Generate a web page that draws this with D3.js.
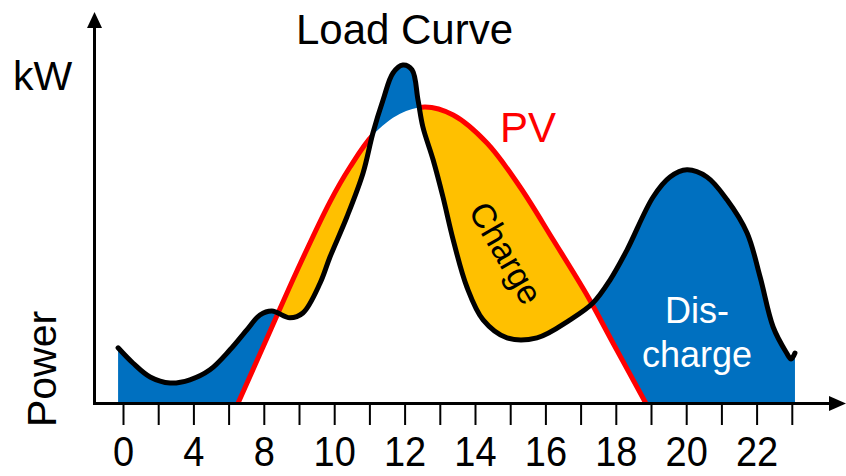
<!DOCTYPE html>
<html>
<head>
<meta charset="utf-8">
<script src="https://cdn.jsdelivr.net/npm/d3@7"></script>
<style>
  html, body { margin: 0; padding: 0; background: #fff; }
  svg { display: block; }
  text { font-family: "Liberation Sans", Arial, sans-serif; }
</style>
</head>
<body>
<svg id="chart" width="846" height="476"></svg>
<script>
// ---- data (hours, kW) ----
const loadHours = [3.86, 4.28, 4.77, 5.34, 5.90, 6.47, 7.04, 7.52, 7.89, 8.23, 8.74, 9.11, 9.60, 9.88, 10.36, 10.82, 11.10, 11.39, 11.67, 11.95, 12.21, 12.38, 12.52, 12.81, 13.09, 13.38, 13.77, 14.23, 14.91, 15.76, 16.70, 17.35, 17.84, 18.32, 19.06, 19.54, 20.02, 20.59, 21.16, 21.73, 22.10, 22.47, 22.84, 22.98, 23.09];
const loadKW    = [1.38, 1.00, 0.65, 0.50, 0.58, 0.83, 1.33, 1.83, 2.20, 2.30, 2.13, 2.25, 3.00, 3.65, 4.65, 5.75, 6.75, 7.58, 8.25, 8.45, 8.33, 7.58, 6.90, 6.08, 5.15, 4.08, 2.90, 2.08, 1.63, 1.63, 2.08, 2.50, 3.08, 3.83, 5.15, 5.65, 5.83, 5.65, 5.08, 4.25, 3.15, 1.90, 1.27, 1.10, 1.25];
const pvHours   = [7.27, 8.18, 8.94, 9.88, 10.45, 11.10, 11.87, 12.58, 13.38, 14.34, 15.28, 16.22, 17.18, 17.92, 18.85];
const pvKW      = [0.00, 1.80, 3.30, 5.03, 5.90, 6.70, 7.23, 7.40, 7.20, 6.50, 5.40, 4.08, 2.70, 1.50, 0.00];
const tickHours  = [4, 5, 6, 7, 8, 9, 10, 11, 12, 13, 14, 15, 16, 17, 18, 19, 20, 21, 22, 23];
const labelHours = [4, 6, 8, 10, 12, 14, 16, 18, 20, 22];
const tickLabels = ["0", "4", "8", "10", "12", "14", "16", "18", "20", "22"];

const load = loadHours.map((h, i) => [h, loadKW[i]]);
const pv = pvHours.map((h, i) => [h, pvKW[i]]);

const svg = d3.select("#chart");
const x = d3.scaleLinear().domain([4, 23]).range([123, 791.8]);
const y = d3.scaleLinear().domain([0, 10]).range([403, 3]);
const curve = d3.curveCatmullRom.alpha(0.5);

const defs = svg.append("defs");

// region above PV (plus everything outside PV span)
const abovePV = defs.append("clipPath").attr("id", "abovePV");
abovePV.append("path")
  .attr("d", d3.area().x(d => x(d[0])).y0(-50).y1(d => y(d[1])).curve(curve)(pv));
abovePV.append("rect").attr("x", -10).attr("y", -50)
  .attr("width", x(pvHours[0]) + 10).attr("height", 600);
abovePV.append("rect").attr("x", x(pvHours[pvHours.length - 1])).attr("y", -50)
  .attr("width", 900).attr("height", 600);

// region above load
const aboveLoad = defs.append("clipPath").attr("id", "aboveLoad");
aboveLoad.append("path")
  .attr("d", d3.area().x(d => x(d[0])).y0(-50).y1(d => y(d[1])).curve(curve)(load));

// PV line clip: hide under the noon peak
const pvClip = defs.append("clipPath").attr("id", "pvClip");
pvClip.append("path")
  .attr("d", d3.area().x(d => x(d[0])).y0(-50).y1(d => y(d[1])).curve(curve)(load));
pvClip.append("rect").attr("x", -10).attr("y", -50).attr("width", x(10.9) + 10).attr("height", 600);
pvClip.append("rect").attr("x", x(12.8)).attr("y", -50).attr("width", 900).attr("height", 600);

// Blue (discharge) area: under load, above PV
svg.append("path")
  .attr("d", d3.area().x(d => x(d[0])).y0(y(0)).y1(d => y(d[1])).curve(curve)(load))
  .attr("fill", "#0070C0")
  .attr("clip-path", "url(#abovePV)");

// Orange (charge) area: under PV, above load
svg.append("path")
  .attr("d", d3.area().x(d => x(d[0])).y0(y(0)).y1(d => y(d[1])).curve(curve)(pv))
  .attr("fill", "#FFC000")
  .attr("clip-path", "url(#aboveLoad)");

// PV line
svg.append("path")
  .attr("d", d3.line().x(d => x(d[0])).y(d => y(d[1])).curve(curve)(pv))
  .attr("fill", "none").attr("stroke", "#FF0000").attr("stroke-width", 5)
  .attr("clip-path", "url(#pvClip)");

// Load line
svg.append("path")
  .attr("d", d3.line().x(d => x(d[0])).y(d => y(d[1])).curve(curve)(load))
  .attr("fill", "none").attr("stroke", "#000").attr("stroke-width", 5)
  .attr("stroke-linecap", "round").attr("stroke-linejoin", "round");

// x axis ticks and labels
const labelMap = new Map(labelHours.map((h, i) => [h, tickLabels[i]]));
const xAxis = d3.axisBottom(x).tickValues(tickHours).tickSize(21).tickPadding(20)
  .tickFormat(d => labelMap.has(d) ? labelMap.get(d) : "");
const gx = svg.append("g").attr("transform", "translate(0,404)").call(xAxis);
gx.select(".domain").remove();
gx.selectAll(".tick line").attr("stroke", "#000").attr("stroke-width", 2);
gx.selectAll(".tick text").attr("fill", "#000")
  .attr("y", 34.5).attr("dy", null)
  .attr("transform", "scale(1,1.1)")
  .attr("dominant-baseline", null)
  .each(function () { d3.select(this).attr("y", 61.8 / 1.1 * 1.0); })
  .style("font-family", "'Liberation Sans', Arial, sans-serif").style("font-size", "38px");

// axis lines with arrows
svg.append("line").attr("x1", 93).attr("y1", 403.5).attr("x2", 832).attr("y2", 403.5)
  .attr("stroke", "#000").attr("stroke-width", 3);
svg.append("path").attr("d", "M829,396 L846,403.5 L829,411 Z").attr("fill", "#000");
svg.append("line").attr("x1", 94.5).attr("y1", 405).attr("x2", 94.5).attr("y2", 26)
  .attr("stroke", "#000").attr("stroke-width", 3);
svg.append("path").attr("d", "M87,28 L94.5,12 L102,28 Z").attr("fill", "#000");

// texts
svg.append("text").attr("x", 404.5).attr("y", 44).attr("text-anchor", "middle")
  .style("font-size", "42px").attr("fill", "#000").text("Load Curve");
svg.append("text").attr("x", 13).attr("y", 90)
  .style("font-size", "41px").attr("fill", "#000").text("kW");
svg.append("text").attr("transform", "translate(56,369) rotate(-90)").attr("text-anchor", "middle")
  .style("font-size", "41px").attr("fill", "#000").text("Power");
svg.append("text").attr("x", 500).attr("y", 142)
  .style("font-size", "42px").attr("fill", "#FF0000").text("PV");
svg.append("text").attr("transform", "translate(506,253) rotate(60)").attr("text-anchor", "middle")
  .attr("dy", "0.35em").style("font-size", "34px").attr("fill", "#000").text("Charge");
svg.append("text").attr("x", 697).attr("y", 323).attr("text-anchor", "middle")
  .style("font-size", "36px").attr("fill", "#fff").text("Dis-");
svg.append("text").attr("x", 697).attr("y", 367).attr("text-anchor", "middle")
  .style("font-size", "36px").attr("fill", "#fff").text("charge");
</script>
</body>
</html>
